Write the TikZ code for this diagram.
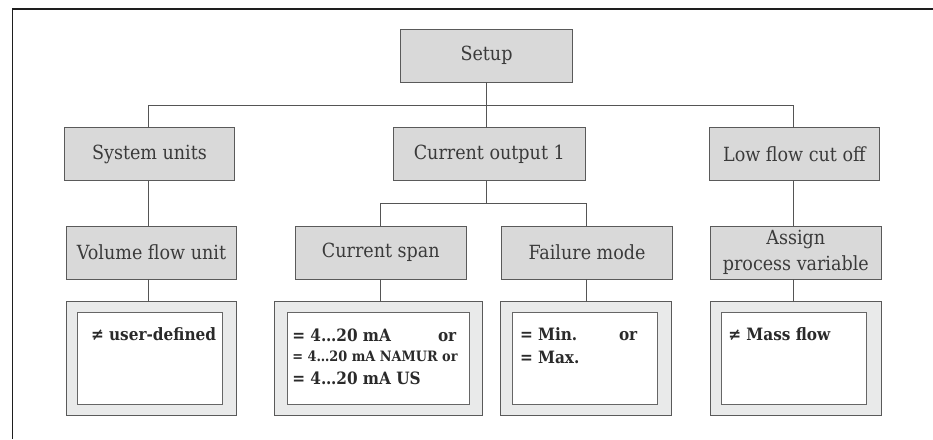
\documentclass[tikz,border=0pt]{standalone}
\usepackage{fontspec}
\setmainfont{DejaVu Serif Condensed}
\definecolor{boxfill}{HTML}{D9D9D9}
\definecolor{boxline}{HTML}{5A5A5A}
\definecolor{panelfill}{HTML}{E9EAEA}
\definecolor{innerline}{HTML}{666666}
\definecolor{labeltext}{HTML}{3A3A3A}
\definecolor{valuetext}{HTML}{2A2A2A}
\definecolor{connline}{HTML}{555555}
\definecolor{framecol}{HTML}{1E1E1E}
\begin{document}
\begin{tikzpicture}[x=1pt,y=-1pt,
  every node/.style={inner sep=0pt, outer sep=0pt},
  menubox/.style={draw=boxline, fill=boxfill, line width=0.9pt, minimum height=53pt,
    text=labeltext, font=\fontsize{19.5}{26}\selectfont, align=center},
  outerbox/.style={draw=boxline, fill=panelfill, line width=0.9pt, minimum height=113.3pt},
  innerbox/.style={draw=innerline, fill=white, line width=0.9pt, minimum height=91.3pt},
  conn/.style={draw=connline, line width=0.9pt},
  valtext/.style={anchor=base west, text=valuetext, font=\fontsize{17}{20}\selectfont\bfseries},
  valsmall/.style={anchor=base west, text=valuetext, font=\fontsize{14.3}{16}\selectfont\bfseries},
]
\useasboundingbox (0,0) rectangle (933,439);

% outer frame (top and left edges)
\draw[framecol, line width=1.6pt] (12.6,439) -- (12.6,9) -- (933,9);

% menu boxes
\node[menubox, minimum width=171.7pt] (setup)  at (486.5,55.7)  {Setup};
\node[menubox, minimum width=170.7pt] (sys)    at (149.5,154.2) {System units};
\node[menubox, minimum width=192pt]   (curout) at (489.3,154.2) {Current output 1};
\node[menubox, minimum width=170.7pt] (low)    at (794.3,154.2) {Low flow cut off};
\node[menubox, minimum width=170.4pt] (vol)    at (151.5,252.7) {Volume flow unit};
\node[menubox, minimum width=170.3pt] (span)   at (380.8,252.7) {Current span};
\node[menubox, minimum width=170.6pt] (fail)   at (587,252.7)   {Failure mode};
\node[menubox, minimum width=170.3pt] (assign) at (795.8,252.7) {Assign\\process variable};

% value panels
\node[outerbox, minimum width=170.7pt] (vuser) at (151.35,358.35) {};
\node[innerbox, minimum width=145.3pt] (vuseri) at (149.65,358.35) {};
\node[outerbox, minimum width=208.3pt] (vspan) at (378.15,358.35) {};
\node[innerbox, minimum width=182pt]   (vspani) at (378.3,358.35) {};
\node[outerbox, minimum width=171pt]   (vfail) at (586.2,358.35) {};
\node[innerbox, minimum width=145.3pt] (vfaili) at (584.65,358.35) {};
\node[outerbox, minimum width=170.3pt] (vmass) at (795.85,358.35) {};
\node[innerbox, minimum width=145pt]   (vmassi) at (794.2,358.35) {};

% value texts
\node[valtext] (tuser) at (91,340.7) {≠ user-defined};
\node[valtext] (tspan1) at (292.3,341) {= 4…20 mA};
\node[valtext] (tspanor) at (438,341) {or};
\node[valsmall] (tspan2) at (292.3,361) {= 4…20 mA NAMUR or};
\node[valtext] (tspan3) at (292.3,384) {= 4…20 mA US};
\node[valtext] (tmin) at (520,340.7) {= Min.};
\node[valtext] (tminor) at (619,340.7) {or};
\node[valtext] (tmax) at (520,363.3) {= Max.};
\node[valtext] (tmass) at (728.3,340) {≠ Mass flow};

% connector rails
\coordinate (bus) at (0,105);
\coordinate (subbus) at (0,203.3);
\coordinate (colA) at (148.3,0);
\coordinate (colB) at (486.5,0);
\coordinate (colS) at (380.7,0);
\coordinate (colF) at (586.7,0);
\coordinate (colL) at (793,0);

% connectors
\draw[conn] (setup.south) -- (colB |- bus);
\draw[conn] (colA |- sys.north) -- (colA |- bus) -- (colL |- bus) -- (colL |- low.north);
\draw[conn] (colB |- bus) -- (colB |- curout.north);
\draw[conn] (colA |- sys.south) -- (colA |- vol.north);
\draw[conn] (colA |- vol.south) -- (colA |- vuser.north);
\draw[conn] (colB |- curout.south) -- (colB |- subbus);
\draw[conn] (colS |- span.north) -- (colS |- subbus) -- (colF |- subbus) -- (colF |- fail.north);
\draw[conn] (colS |- span.south) -- (colS |- vspan.north);
\draw[conn] (colF |- fail.south) -- (colF |- vfail.north);
\draw[conn] (colL |- low.south) -- (colL |- assign.north);
\draw[conn] (colL |- assign.south) -- (colL |- vmass.north);
\end{tikzpicture}
\end{document}
